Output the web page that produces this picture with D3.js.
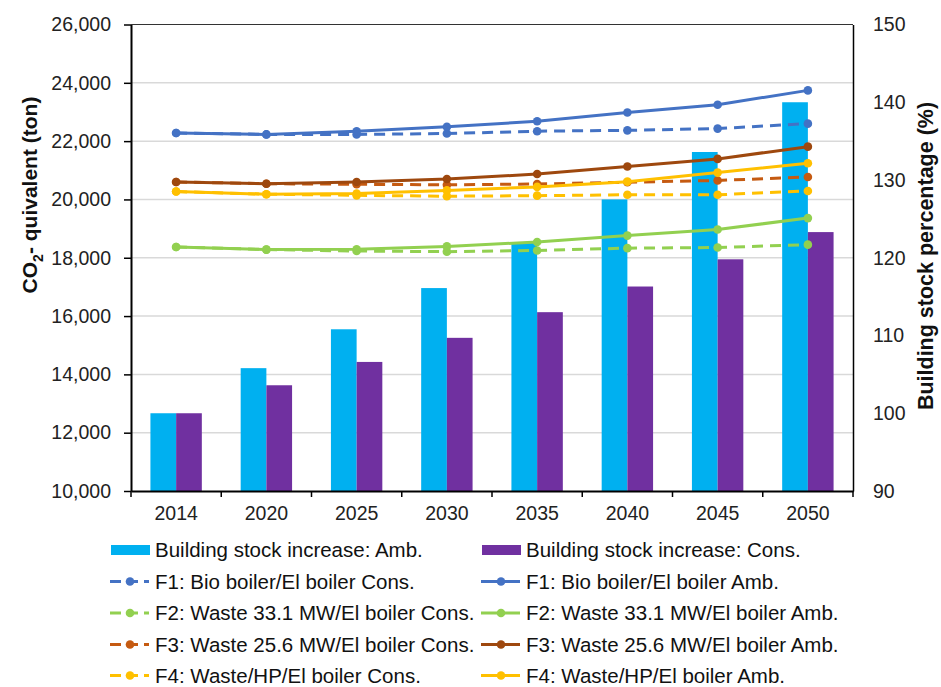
<!DOCTYPE html>
<html>
<head>
<meta charset="utf-8">
<script src="https://cdn.jsdelivr.net/npm/d3@7/dist/d3.min.js"></script>
<style>
  body { margin: 0; background: #fff; }
  svg { font-family: "Liberation Sans", Arial, sans-serif; }
</style>
</head>
<body>
<svg id="chart" width="941" height="687"></svg>
<script>
const years = ["2014", "2020", "2025", "2030", "2035", "2040", "2045", "2050"];
const bldAmb  = [100, 105.8, 110.8, 116.1, 121.9, 127.5, 133.6, 140.0];
const bldCons = [100, 103.6, 106.6, 109.7, 113.0, 116.3, 119.8, 123.3];
const f1Amb  = [22280, 22230, 22340, 22490, 22680, 22980, 23250, 23740];
const f1Cons = [22280, 22230, 22230, 22260, 22340, 22370, 22430, 22600];
const f2Amb  = [18370, 18280, 18290, 18390, 18540, 18760, 18970, 19360];
const f2Cons = [18370, 18280, 18230, 18210, 18250, 18330, 18350, 18450];
const f3Amb  = [20600, 20540, 20600, 20700, 20870, 21130, 21390, 21810];
const f3Cons = [20600, 20540, 20520, 20500, 20530, 20590, 20650, 20770];
const f4Amb  = [20270, 20180, 20200, 20310, 20430, 20610, 20920, 21240];
const f4Cons = [20270, 20180, 20140, 20110, 20130, 20160, 20160, 20290];
const leftTicks = [10000, 12000, 14000, 16000, 18000, 20000, 22000, 24000, 26000];
const rightTicks = [90, 100, 110, 120, 130, 140, 150];

const barSeries = [
  { name: "Building stock increase: Amb.", values: bldAmb, color: "#00B0F0" },
  { name: "Building stock increase: Cons.", values: bldCons, color: "#7030A0" }
];
const lineSeries = [
  { name: "F1: Bio boiler/El boiler Cons.", values: f1Cons, color: "#4472C4", dashed: true },
  { name: "F1: Bio boiler/El boiler Amb.", values: f1Amb, color: "#4472C4", dashed: false },
  { name: "F2: Waste 33.1 MW/El boiler Cons.", values: f2Cons, color: "#92D050", dashed: true },
  { name: "F2: Waste 33.1 MW/El boiler Amb.", values: f2Amb, color: "#92D050", dashed: false },
  { name: "F3: Waste 25.6 MW/El boiler Cons.", values: f3Cons, color: "#C55A11", dashed: true },
  { name: "F3: Waste 25.6 MW/El boiler Amb.", values: f3Amb, color: "#9E480E", dashed: false },
  { name: "F4: Waste/HP/El boiler Cons.", values: f4Cons, color: "#FFC000", dashed: true },
  { name: "F4: Waste/HP/El boiler Amb.", values: f4Amb, color: "#FFC000", dashed: false }
];

const svg = d3.select("#chart");
const L = 131, R = 853, T = 24.5, B = 491;
const FONT = "Liberation Sans, Arial, sans-serif";

const x = d3.scaleBand().domain(years).range([L, R]).padding(0);
const bw = 25.7;
const x1 = d3.scaleBand().domain([0, 1])
  .range([x.bandwidth() / 2 - bw, x.bandwidth() / 2 + bw]).padding(0);
const yL = d3.scaleLinear().domain([10000, 26000]).range([B, T]);
const yR = d3.scaleLinear().domain([90, 150]).range([B, T]);

// gridlines
svg.append("g").selectAll("line").data(leftTicks.slice(1, -1)).join("line")
  .attr("x1", L).attr("x2", R)
  .attr("y1", d => yL(d)).attr("y2", d => yL(d))
  .attr("stroke", "#D9D9D9").attr("stroke-width", 1.5);
// top border
svg.append("line").attr("x1", L).attr("x2", R).attr("y1", T).attr("y2", T)
  .attr("stroke", "#333").attr("stroke-width", 1.2);

// bars
barSeries.forEach((s, i) => {
  svg.append("g").selectAll("rect").data(s.values).join("rect")
    .attr("x", (d, j) => x(years[j]) + x1(i))
    .attr("width", x1.bandwidth())
    .attr("y", d => yR(d))
    .attr("height", d => yR(90) - yR(d))
    .attr("fill", s.color);
});

// axes
const fmt = d3.format(",");
const axL = svg.append("g").attr("transform", `translate(${L},0)`)
  .call(d3.axisLeft(yL).tickValues(leftTicks).tickFormat(fmt).tickSize(7).tickSizeOuter(0));
axL.select(".domain").attr("stroke", "#000").attr("stroke-width", 2);
axL.selectAll(".tick line").attr("stroke", "#000").attr("stroke-width", 1.5);
axL.selectAll("text").attr("font-size", 19.5).attr("fill", "#222").attr("x", -20)
  .attr("font-family", FONT);

const axR = svg.append("g").attr("transform", `translate(${R},0)`)
  .call(d3.axisRight(yR).tickValues(rightTicks).tickSize(0).tickSizeOuter(0));
axR.select(".domain").attr("stroke", "#000").attr("stroke-width", 1.5);
axR.selectAll("text").attr("font-size", 19.5).attr("fill", "#222").attr("x", 20)
  .attr("font-family", FONT);

const axB = svg.append("g").attr("transform", `translate(0,${B})`)
  .call(d3.axisBottom(x).tickSize(0).tickSizeOuter(0));
axB.select(".domain").attr("stroke", "#000").attr("stroke-width", 2);
axB.selectAll("text").attr("font-size", 19.5).attr("fill", "#222").attr("y", 15)
  .attr("font-family", FONT);
// category boundary ticks
svg.append("g").selectAll("line").data(years.concat(["end"])).join("line")
  .attr("x1", (d, i) => i < years.length ? x(d) : R)
  .attr("x2", (d, i) => i < years.length ? x(d) : R)
  .attr("y1", B).attr("y2", B + 6)
  .attr("stroke", "#000").attr("stroke-width", 1.5);

// lines
const line = d3.line().x((d, i) => x(years[i]) + x.bandwidth() / 2).y(d => yL(d));
lineSeries.forEach(s => {
  const g = svg.append("g");
  g.append("path").datum(s.values).attr("d", line)
    .attr("fill", "none").attr("stroke", s.color).attr("stroke-width", 3)
    .attr("stroke-dasharray", s.dashed ? "11,7" : null);
  g.selectAll("circle").data(s.values).join("circle")
    .attr("cx", (d, i) => x(years[i]) + x.bandwidth() / 2)
    .attr("cy", d => yL(d)).attr("r", 4.3).attr("fill", s.color);
});

// axis titles
const tL = svg.append("text")
  .attr("transform", `translate(37,195) rotate(-90)`)
  .attr("text-anchor", "middle").attr("font-size", 21).attr("font-weight", "bold").attr("fill", "#111");
tL.append("tspan").text("CO");
tL.append("tspan").text("2").attr("font-size", 14).attr("dy", 6);
tL.append("tspan").text("- quivalent (ton)").attr("dy", -6);

svg.append("text")
  .attr("transform", `translate(933,256) rotate(-90)`)
  .attr("text-anchor", "middle").attr("font-size", 21.5).attr("font-weight", "bold").attr("fill", "#111")
  .text("Building stock percentage (%)");

// legend
const legendItems = [
  { type: "bar", s: barSeries[0] }, { type: "bar", s: barSeries[1] }
].concat(lineSeries.map(s => ({ type: "line", s })));
const colX = [111, 482];
const rowY = [550, 581.5, 613, 644.5, 675.5];
const lg = svg.append("g");
legendItems.forEach((it, k) => {
  const col = k % 2, row = Math.floor(k / 2);
  const gx = colX[col], gy = rowY[row];
  const g = lg.append("g").attr("transform", `translate(${gx},${gy})`);
  if (it.type === "bar") {
    g.append("rect").attr("x", 0).attr("y", -5).attr("width", 39).attr("height", 10).attr("fill", it.s.color);
  } else {
    g.append("line").attr("x1", -1).attr("x2", 38).attr("y1", 0).attr("y2", 0)
      .attr("stroke", it.s.color).attr("stroke-width", 3)
      .attr("stroke-dasharray", it.s.dashed ? "11,6" : null);
    g.append("circle").attr("cx", 19).attr("cy", 0).attr("r", 4.3).attr("fill", it.s.color);
  }
  g.append("text").attr("x", 44).attr("y", 0).attr("dy", "0.35em")
    .attr("font-size", 20.5).attr("fill", "#111").attr("font-family", FONT).text(it.s.name);
});
</script>
</body>
</html>
